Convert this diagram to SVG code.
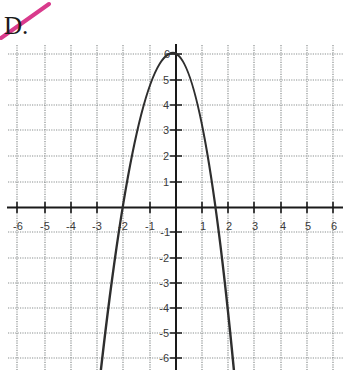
<svg xmlns="http://www.w3.org/2000/svg" width="343" height="370" viewBox="0 0 343 370">
<style>
.grid{stroke:#8a8f8f;stroke-width:1.2;stroke-dasharray:1.2 1.2;fill:none}
.axis{stroke:#1a1a1a;stroke-width:2;fill:none}
.tick{stroke:#1a1a1a;stroke-width:1.6}
.lbl{font-family:"Liberation Sans",Arial,sans-serif;font-size:11px;fill:#3a3a3a}
.xl{text-anchor:middle}
.yl{text-anchor:end}
.curve{stroke:#2e2e2e;stroke-width:2.4;fill:none;stroke-linejoin:round;stroke-linecap:round}
</style>
<rect width="343" height="370" fill="#ffffff"/>
<g id="grid">
<path class="grid" d="M17,45V370M45,45V370M71,45V370M97,45V370M123,45V370M150,45V370M202,45V370M228,45V370M254,45V370M281,45V370M307,45V370M333,45V370"/>
<path class="grid" d="M8,54H343M8,80H343M8,105H343M8,130H343M8,156H343M8,182H343M8,232H343M8,258H343M8,283H343M8,308H343M8,333H343M8,358H343"/>
</g>
<g id="axes">
<path class="axis" d="M7,207.5H343M176,44V370"/>
<path class="tick" d="M17,202V213M45,202V213M71,202V213M97,202V213M150,202V213M202,202V213M228,202V213M254,202V213M281,202V213M307,202V213M333,202V213"/>
<path class="tick" d="M170,54H182M170,80H182M170,105H182M170,130H182M170,156H182M170,182H182M170,232H182M170,258H182M170,283H182M170,308H182M170,333H182M170,358H182"/>
</g>
<g id="x-labels">
<text class="lbl xl" x="18" y="229.5">-6</text>
<text class="lbl xl" x="45" y="229.5">-5</text>
<text class="lbl xl" x="71" y="229.5">-4</text>
<text class="lbl xl" x="97" y="229.5">-3</text>
<text class="lbl xl" x="123" y="229.5">-2</text>
<text class="lbl xl" x="150" y="229.5">-1</text>
<text class="lbl xl" x="203" y="229.5">1</text>
<text class="lbl xl" x="229" y="229.5">2</text>
<text class="lbl xl" x="255" y="229.5">3</text>
<text class="lbl xl" x="283" y="229.5">4</text>
<text class="lbl xl" x="308" y="229.5">5</text>
<text class="lbl xl" x="334" y="229.5">6</text>
</g>
<g id="y-labels">
<text class="lbl yl" x="170" y="58">6</text>
<text class="lbl yl" x="169" y="84">5</text>
<text class="lbl yl" x="169" y="109">4</text>
<text class="lbl yl" x="169" y="134">3</text>
<text class="lbl yl" x="169" y="160">2</text>
<text class="lbl yl" x="169" y="186">1</text>
<text class="lbl yl" x="170" y="236">-1</text>
<text class="lbl yl" x="169" y="262">-2</text>
<text class="lbl yl" x="169" y="287">-3</text>
<text class="lbl yl" x="169" y="312">-4</text>
<text class="lbl yl" x="169" y="337">-5</text>
<text class="lbl yl" x="169" y="362">-6</text>
</g>
<g id="parabola">
<path class="curve" d="M100,377.9 Q136.5,53 173,53 Q204.5,53 236,392.3"/>
</g>
<g id="title">
<line x1="1" y1="38" x2="49" y2="4" stroke="#d93a8c" stroke-width="4" stroke-linecap="round"/>
<text x="4" y="34" font-family="'Liberation Serif','Times New Roman',serif" font-size="25" fill="#1a1a1a">D.</text>
</g>
</svg>
